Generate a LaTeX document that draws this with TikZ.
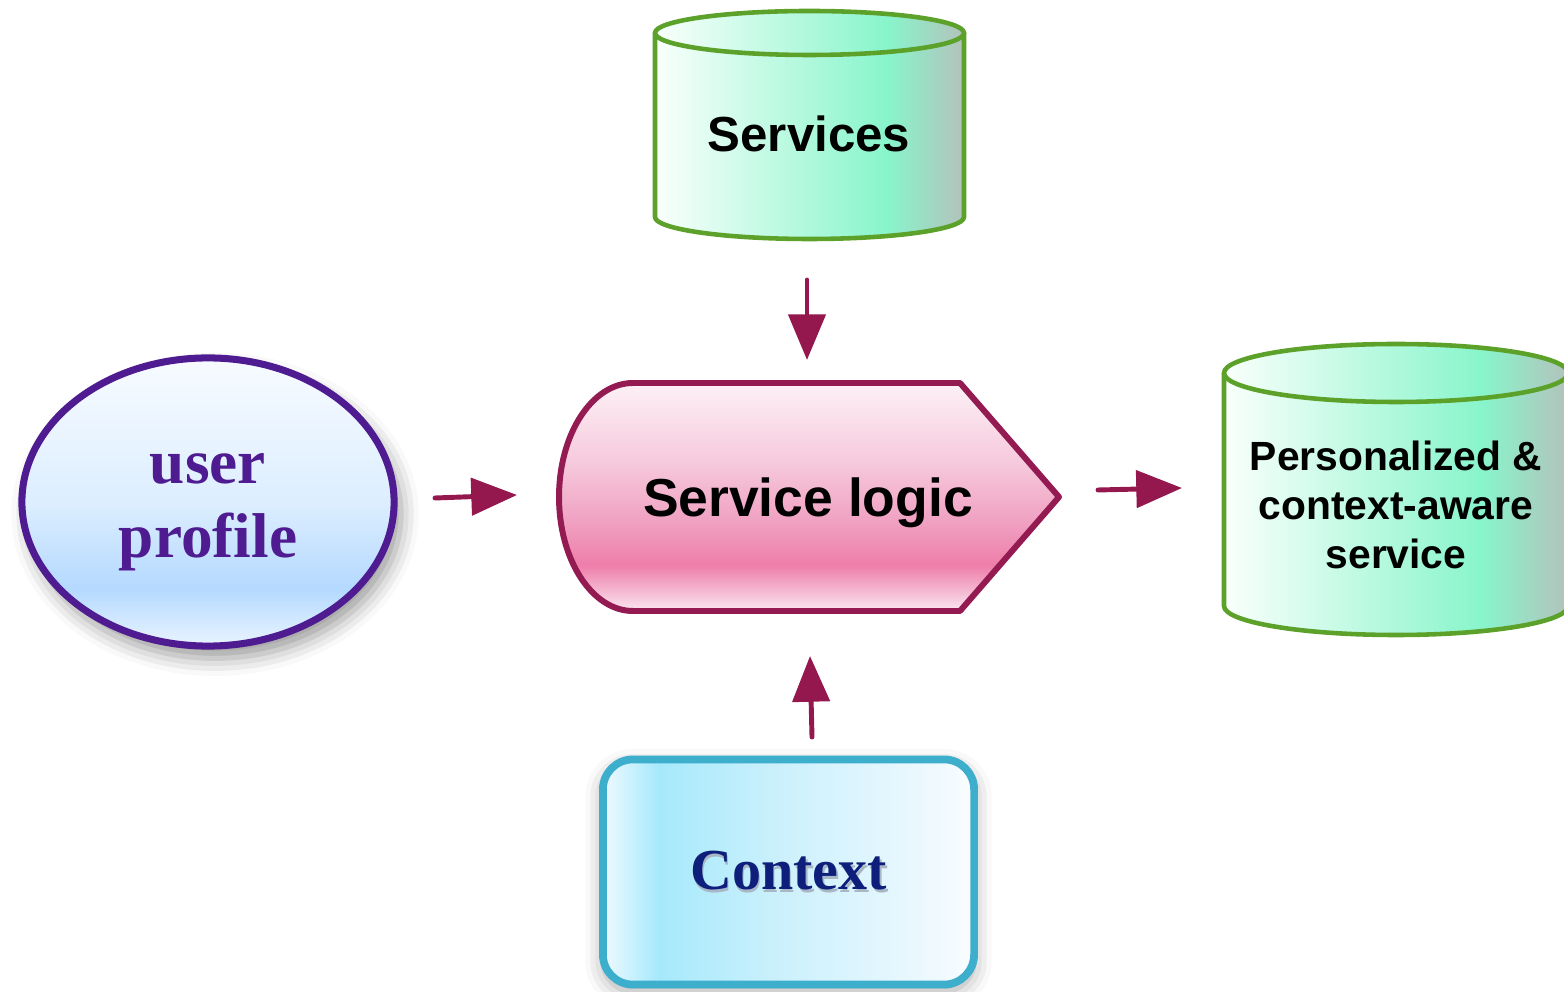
\documentclass[tikz,border=0pt]{standalone}
\usepackage{fontspec}
\setmainfont{Liberation Serif}
\newfontfamily\labsans{Liberation Sans}
\usetikzlibrary{shapes.geometric,arrows.meta,shadows.blur}

\definecolor{cgA}{HTML}{FAFFFC}
\definecolor{cgB}{HTML}{88F5CB}
\definecolor{cgC}{HTML}{B3C2BC}
\definecolor{cylborder}{HTML}{5CA12A}
\definecolor{pkA}{HTML}{FDF1F6}
\definecolor{pkB}{HTML}{F6C9DC}
\definecolor{pkC}{HTML}{F0A2C2}
\definecolor{pkD}{HTML}{EE7EAA}
\definecolor{pkE}{HTML}{F5BDD4}
\definecolor{pkF}{HTML}{FBE8F0}
\definecolor{pinkborder}{HTML}{931B52}
\definecolor{upA}{HTML}{F7FBFF}
\definecolor{upB}{HTML}{DDEEFF}
\definecolor{upC}{HTML}{B4D9FF}
\definecolor{upD}{HTML}{EAF4FF}
\definecolor{upborder}{HTML}{4F1B91}
\definecolor{uptext}{HTML}{4F1B91}
\definecolor{cxA}{HTML}{EEFAFF}
\definecolor{cxB}{HTML}{A6E9FC}
\definecolor{cxC}{HTML}{C9F0FC}
\definecolor{cxD}{HTML}{EAF8FE}
\definecolor{cxE}{HTML}{FAFDFF}
\definecolor{ctxborder}{HTML}{3DAECB}
\definecolor{ctxtext}{HTML}{0D1F7A}
\definecolor{ctxshadow}{HTML}{A8B6C6}
\definecolor{arrowcol}{HTML}{94174E}

\pgfdeclarehorizontalshading{cylgreen}{100bp}{color(0bp)=(cgA); color(25bp)=(cgA); color(62.5bp)=(cgB); color(75bp)=(cgC); color(100bp)=(cgC)}
\pgfdeclareverticalshading{pinkshade}{100bp}{color(0bp)=(pkF); color(25bp)=(pkF); color(29bp)=(pkE); color(35bp)=(pkD); color(45bp)=(pkC); color(57.5bp)=(pkB); color(75bp)=(pkA); color(100bp)=(pkA)}
\pgfdeclareverticalshading{upshade}{100bp}{color(0bp)=(upD); color(25bp)=(upD); color(35bp)=(upC); color(50bp)=(upB); color(75bp)=(upA); color(100bp)=(upA)}
\pgfdeclarehorizontalshading{ctxshade}{100bp}{color(0bp)=(cxA); color(25bp)=(cxA); color(32.5bp)=(cxB); color(47.5bp)=(cxC); color(67.5bp)=(cxD); color(75bp)=(cxE); color(100bp)=(cxE)}

\begin{document}
\begin{tikzpicture}[x=0.01cm,y=0.01cm,
  cyl/.style={shading=cylgreen},
  cylline/.style={draw=cylborder,line width=1.3pt},
  conn/.style={draw=arrowcol,line width=1.4pt,line cap=round,-{Triangle[length=13pt,width=10.5pt]}},
  sanslabel/.style={font=\labsans\bfseries, text=black, align=center}
]
\useasboundingbox (0,0) rectangle (1564,-992);

% Services cylinder
\path[cyl] (655,-33) -- (655,-217) arc[start angle=180,end angle=360,x radius=154.5,y radius=22] -- (964,-33) arc[start angle=0,end angle=180,x radius=154.5,y radius=22] -- cycle;
\draw[cylline] (655,-33) -- (655,-217) arc[start angle=180,end angle=360,x radius=154.5,y radius=22] -- (964,-33);
\draw[cylline] (809.5,-33) ellipse[x radius=154.5,y radius=22];
\node[sanslabel, font=\labsans\bfseries\fontsize{14}{17}\selectfont] (services) at (809,-134) {Services};

% Personalized cylinder
\path[cyl] (1224,-373) -- (1224,-606) arc[start angle=180,end angle=360,x radius=172,y radius=29] -- (1568,-373) arc[start angle=0,end angle=180,x radius=172,y radius=29] -- cycle;
\draw[cylline] (1224,-373) -- (1224,-606) arc[start angle=180,end angle=360,x radius=172,y radius=29] -- (1568,-373);
\draw[cylline] (1396,-373) ellipse[x radius=172,y radius=29];
\node[sanslabel, font=\labsans\bfseries\fontsize{11.6}{14}\selectfont] (result) at (1396,-505) {Personalized \&\\context-aware\\service};

% Service logic shape
\path[shading=pinkshade, draw=pinkborder, line width=1.7pt, line join=round]
  (633,-383) -- (960,-383) -- (1059,-497) -- (960,-611) -- (633,-611)
  arc[start angle=270,end angle=90,x radius=74,y radius=114] -- cycle;
\node[sanslabel, font=\labsans\bfseries\fontsize{15.2}{18}\selectfont] (logic) at (808,-503) {Service logic};

% user profile
\node[ellipse, draw=upborder, line width=2pt, minimum width=3.72cm, minimum height=2.88cm,
  shading=upshade, blur shadow={shadow xshift=2pt, shadow yshift=-3.5pt, shadow blur radius=5pt, shadow opacity=40}] (profile) at (208,-502) {};
\node[font=\bfseries\fontsize{18}{21}\selectfont, text=uptext, align=center] (profiletext) at (208,-512) {user\\profile};

% Context
\node[rectangle, rounded corners=0.3cm, draw=ctxborder, line width=2.2pt, minimum width=3.71cm, minimum height=2.25cm,
  shading=ctxshade, blur shadow={shadow xshift=0pt, shadow yshift=-2pt, shadow blur radius=5pt, shadow opacity=35},
  font=\bfseries\fontsize{16.5}{19}\selectfont, text=ctxtext] (context) at (788.5,-872)
  {\makebox[0pt][l]{\kern0.5pt\raisebox{-1pt}{\color{ctxshadow}Context}}Context};

% connectors
\coordinate (p1) at (435,-498);
\coordinate (l1) at (517,-495);
\coordinate (s1) at (807,-280);
\coordinate (l2) at (807,-360);
\coordinate (l3) at (1098,-490);
\coordinate (r1) at (1182,-488);
\coordinate (c1) at (812,-737);
\coordinate (l4) at (810,-656);
\draw[conn] (p1) -- (l1);
\draw[conn] (s1) -- (l2);
\draw[conn] (l3) -- (r1);
\draw[conn] (c1) -- (l4);
\end{tikzpicture}
\end{document}
